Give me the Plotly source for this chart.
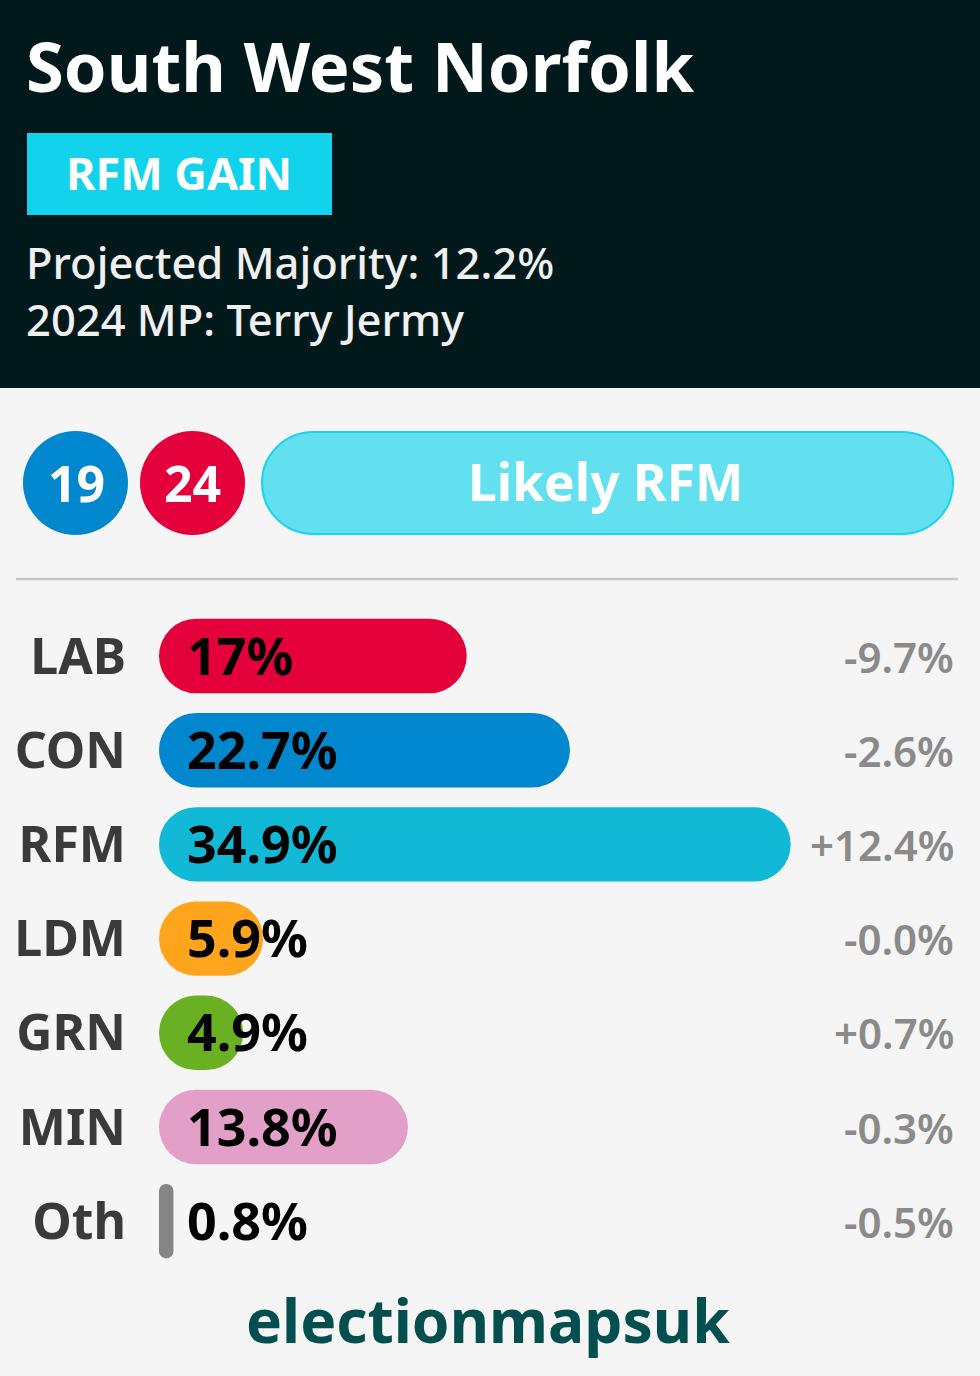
# Import Libraries

import pandas as pd
import plotly.graph_objects as go

# Create Important Functions

def px_x(x: float):
    return x / 980

def px_y(y: float):
    return 1 - y / 1376

def pill_path(x0: float, x1: float, y0: float, y1: float, r: float):
    k = r * 0.5523
    ym = (y0 + y1) / 2
    points = [
        ("M", [(x0 + r, y0)]),
        ("L", [(x1 - r, y0)]),
        ("C", [(x1 - r + k, y0), (x1, ym - k), (x1, ym)]),
        ("C", [(x1, ym + k), (x1 - r + k, y1), (x1 - r, y1)]),
        ("L", [(x0 + r, y1)]),
        ("C", [(x0 + r - k, y1), (x0, ym + k), (x0, ym)]),
        ("C", [(x0, ym - k), (x0 + r - k, y0), (x0 + r, y0)])
    ]
    path = ""
    for cmd, coords in points:
        path += cmd + " " + " ".join(f"{px_x(c[0])},{px_y(c[1])}" for c in coords) + " "
    return path + "Z"

# Data Preparation

df = pd.DataFrame({
    "party": ["LAB", "CON", "RFM", "LDM", "GRN", "MIN", "Oth"],
    "share": [17, 22.7, 34.9, 5.75, 4.65, 13.75, 0.8],
    "label": ["17%", "22.7%", "34.9%", "5.9%", "4.9%", "13.8%", "0.8%"],
    "change": ["-9.7%", "-2.6%", "+12.4%", "-0.0%", "+0.7%", "-0.3%", "-0.5%"],
    "color": ["#e4003b", "#0087cd", "#12b9d6", "#ffa51c", "#6ab023", "#e29fc8", "#858585"]
})
px_per_point = 18.1
x_max = (980 - 159) / px_per_point
font_name = "Noto Sans"

# Visualization

fig = go.Figure()
# an explicit base gets both ends of a bar rounded
fig.add_trace(go.Bar(
    x=df["share"],
    y=df["party"],
    base=[0] * len(df),
    orientation="h",
    width=0.79,
    marker=dict(
        color=df["color"],
        line=dict(width=0)
        )
    )
)

# Header and badges

fig.add_shape(type="rect", xref="paper", yref="paper", x0=0, x1=1, y0=px_y(388), y1=1,
              fillcolor="#02191c", line=dict(width=0), layer="below")
fig.add_shape(type="rect", xref="paper", yref="paper", x0=px_x(27), x1=px_x(332), y0=px_y(215), y1=px_y(133),
              fillcolor="#12d2ec", line=dict(width=0))
fig.add_shape(type="circle", xref="paper", yref="paper", x0=px_x(23), x1=px_x(128), y0=px_y(535), y1=px_y(431),
              fillcolor="#0087cd", line=dict(width=0))
fig.add_shape(type="circle", xref="paper", yref="paper", x0=px_x(140), x1=px_x(245), y0=px_y(535), y1=px_y(431),
              fillcolor="#e4003b", line=dict(width=0))
fig.add_shape(type="path", xref="paper", yref="paper", path=pill_path(262, 953, 432, 534, 51),
              fillcolor="#62e0ef", line=dict(color="#1bd3ec", width=2))
fig.add_shape(type="line", xref="paper", yref="paper", x0=px_x(16), x1=px_x(958), y0=px_y(579), y1=px_y(579),
              line=dict(color="#c6c6c6", width=2.5))

# Add Anotations

notes = [
    ("South West Norfolk", 24, 66, 68.7, "#ffffff", 700, "left"),
    ("RFM GAIN", 179, 172, 45, "#ffffff", 700, "center"),
    ("Projected Majority: 12.2%", 24, 262, 43.5, "#f0f0f0", 500, "left"),
    ("2024 MP: Terry Jermy", 24, 319, 43.5, "#f0f0f0", 500, "left"),
    ("19", 76, 483, 50, "#ffffff", 700, "center"),
    ("24", 192, 483, 50, "#ffffff", 700, "center"),
    ("Likely RFM", 606, 481, 51.5, "#ffffff", 700, "center"),
    ("electionmapsuk", 488, 1319, 60.5, "#034f4f", 700, "center")
]
for note in notes:
    fig.add_annotation(
        text=note[0],
        xref="paper",
        yref="paper",
        x=px_x(note[1]),
        y=px_y(note[2]),
        xanchor=note[6],
        yanchor="middle",
        showarrow=False,
        font=dict(
            family=font_name,
            size=note[3],
            color=note[4],
            weight=note[5]
        )
    )

# Value labels on each row
for i in range(len(df)):
    fig.add_annotation(
        text=df["label"][i],
        x=(185 - 159) / px_per_point,
        y=df["party"][i],
        xanchor="left",
        yanchor="middle",
        yshift=2,
        showarrow=False,
        font=dict(
            family=font_name,
            size=52,
            color="#000000",
            weight=700
        )
    )
    fig.add_annotation(
        text=df["change"][i],
        x=(956 - 159) / px_per_point,
        y=df["party"][i],
        xanchor="right",
        yanchor="middle",
        showarrow=False,
        font=dict(
            family=font_name,
            size=42,
            color="#8a8a8a",
            weight=600
        )
    )

fig.update_layout(
    width=980,
    height=1376,
    margin=dict(l=0, r=0, t=0, b=0),
    paper_bgcolor="#f5f5f5",
    plot_bgcolor="rgba(0,0,0,0)",
    showlegend=False,
    barmode="overlay",
    barcornerradius=37,
    xaxis=dict(
        domain=[159 / 980, 1],
        range=[0, x_max],
        visible=False
    ),
    yaxis=dict(
        domain=[px_y(1268.3), px_y(608.9)],
        autorange="reversed",
        showgrid=False,
        zeroline=False,
        showline=False,
        ticks="",
        ticklabelstandoff=32,
        tickfont=dict(
            family=font_name,
            size=50,
            color="#3a3a3a",
            weight=700
        )
    )
)
fig.write_html(
    "out.html",
    config=dict(displayModeBar=False),
    post_script="document.body.style.margin = '0';"
)
